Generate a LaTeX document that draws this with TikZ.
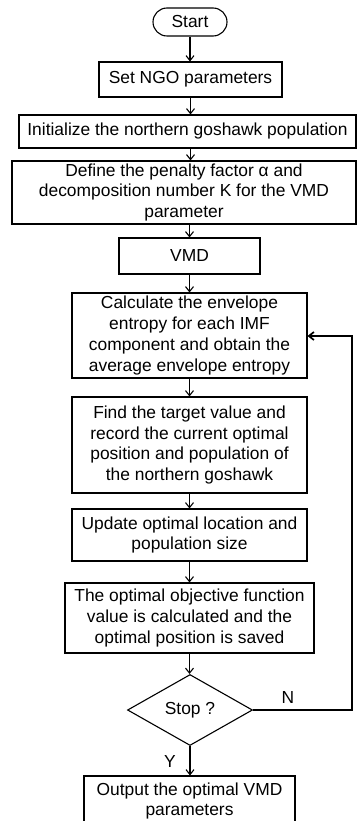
\documentclass[tikz,border=0pt]{standalone}
\usepackage{fontspec}
\setmainfont{Liberation Sans}
\usetikzlibrary{shapes.geometric,arrows.meta}
\begin{document}
\begin{tikzpicture}[x=1pt,y=-1pt,
  box/.style={draw, line width=1.1pt, inner sep=0pt, align=center,
    font=\fontsize{17.4}{20.7}\selectfont},
  lbl/.style={inner sep=0pt, font=\fontsize{17.4}{20.7}\selectfont},
  flow/.style={line width=1.1pt, -{Straight Barb[length=5pt,width=8pt]}},
  loopline/.style={line width=1.7pt, -{Straight Barb[length=5pt,width=8pt]}},
]
\useasboundingbox (0,0) rectangle (357,821);
\clip (0,0) rectangle (357,821);

% process steps
\node[box, rounded corners=14pt, minimum width=74, minimum height=28] (start) at (190,22) {Start};
\node[box, minimum width=183, minimum height=35] (ngo) at (190.5,79.5) {Set NGO parameters};
\node[box, minimum width=337, minimum height=33] (init) at (187.5,131.5) {Initialize the northern goshawk population};
\node[box, minimum width=344, minimum height=63] (def) at (184,192.5) {Define the penalty factor α and\\decomposition number K for the VMD\\parameter};
\node[box, minimum width=141, minimum height=36] (vmd) at (189.5,256) {VMD};
\node[box, minimum width=235, minimum height=85] (calc) at (189.5,335.5) {Calculate the envelope\\entropy for each IMF\\component and obtain the\\average envelope entropy};
\node[box, minimum width=235, minimum height=96] (find) at (189.5,445) {Find the target value and\\record the current optimal\\position and population of\\the northern goshawk};
\node[box, minimum width=235, minimum height=52] (upd) at (189.5,535) {Update optimal location and\\population size};
\node[box, minimum width=249, minimum height=70] (obj) at (189.5,618) {The optimal objective function\\value is calculated and the\\optimal position is saved};
\node[box, shape=diamond, minimum width=125, minimum height=71] (stop) at (190,710) {Stop ?};
\node[box, minimum width=211, minimum height=50] (out) at (189.5,801) {Output the optimal VMD\\parameters};

% main flow
\draw[flow] (start.south) -- (start.south |- ngo.north);
\draw[flow] (ngo.south) -- (ngo.south |- init.north);
\draw[flow] (ngo.south |- init.south) -- (ngo.south |- def.north);
\draw[flow] (vmd.north |- def.south) -- (vmd.north);
\draw[flow] (vmd.south) -- (vmd.south |- calc.north);
\draw[flow] (calc.south) -- (find.north);
\draw[flow] (find.south) -- (upd.north);
\draw[flow] (upd.south) -- (obj.north);
\draw[flow] (obj.south) -- (obj.south |- stop.north);
\draw[flow] (stop.south) -- (stop.south |- out.north);

% loop back when not finished
\coordinate (turn) at (352,336);
\draw[loopline] (stop.east) -| (turn) -- (calc.east |- turn);

\node[lbl] (nlab) at (288,698) {N};
\node[lbl] (ylab) at (170,762) {Y};
\end{tikzpicture}
\end{document}
